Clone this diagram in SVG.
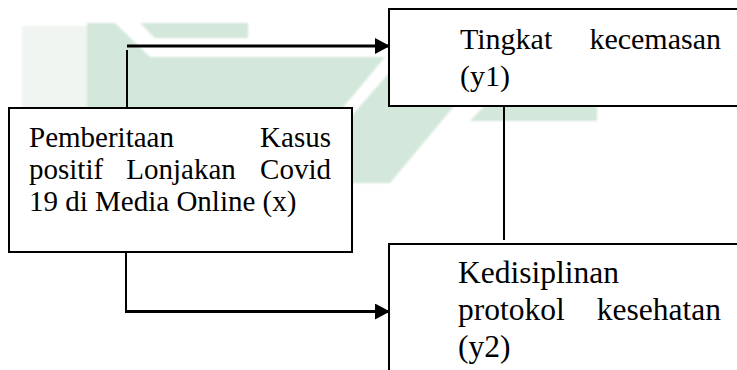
<svg xmlns="http://www.w3.org/2000/svg" width="737" height="370" viewBox="0 0 737 370">
  <style>
    .box { fill: #ffffff; stroke: #000000; stroke-width: 2; }
    .label { font-family: "Liberation Serif", "Times New Roman", serif; font-size: 29px; fill: #000000; }
    .top { font-size: 30px; }
    .bottom { font-size: 31.5px; }
    .end { text-anchor: end; }
    .mid { text-anchor: middle; }
    .wire { fill: none; stroke: #000000; stroke-width: 2; }
    .arrow { fill: none; stroke: #000000; stroke-width: 3; marker-end: url(#head); }
    .mark { fill: #d3e7da; }
  </style>
  <defs>
    <marker id="head" markerUnits="userSpaceOnUse" markerWidth="15" markerHeight="16" refX="15" refY="8" orient="auto" viewBox="0 0 15 16">
      <path d="M0,0 L15,8 L0,16 z" fill="#000000"/>
    </marker>
    <filter id="soft" x="-5%" y="-5%" width="110%" height="110%">
      <feGaussianBlur stdDeviation="1"/>
    </filter>
  </defs>

  <rect width="737" height="370" fill="#ffffff"/>

  <!-- faint background emblem -->
  <g id="emblem" filter="url(#soft)">
    <rect x="22" y="26" width="66" height="84" fill="#f0f5f2"/>
    <polygon class="mark" points="87,23 115,23 150,57 385,57 341,110 87,110"/>
    <polygon class="mark" points="140,23 248,23 248,38 155,38"/>
    <polygon class="mark" points="403,57 495,57 390,183 293,183"/>
    <polygon class="mark" points="490,100 597,100 597,121 470,121"/>
  </g>

  <!-- connectors -->
  <g id="connectors">
    <polyline class="wire" points="127,50 127,108"/>
    <line class="arrow" x1="127" y1="46" x2="390" y2="46"/>
    <polyline class="wire" points="126,252 126,312"/>
    <line class="arrow" x1="125" y1="311.5" x2="390" y2="311.5"/>
    <line class="wire" x1="504" y1="107" x2="504" y2="240"/>
  </g>

  <!-- independent variable -->
  <g id="node-x">
    <rect class="box" x="9" y="108" width="343" height="144"/>
    <text class="label" x="29" y="146.5">Pemberitaan</text>
    <text class="label end" x="331" y="146.5">Kasus</text>
    <text class="label" x="29" y="178.5">positif</text>
    <text class="label mid" x="181" y="178.5">Lonjakan</text>
    <text class="label end" x="331" y="178.5">Covid</text>
    <text class="label" x="29" y="211">19 di Media Online (x)</text>
  </g>

  <!-- dependent variable 1 -->
  <g id="node-y1">
    <rect class="box" x="389" y="9" width="360" height="97"/>
    <text class="label top" x="460" y="48.5">Tingkat</text>
    <text class="label top end" x="721" y="48.5">kecemasan</text>
    <text class="label top" x="460" y="85.5">(y1)</text>
  </g>

  <!-- dependent variable 2 -->
  <g id="node-y2">
    <rect class="box" x="389" y="244" width="360" height="140"/>
    <text class="label bottom" x="458" y="283">Kedisiplinan</text>
    <text class="label bottom" x="458" y="320">protokol</text>
    <text class="label bottom end" x="721" y="320">kesehatan</text>
    <text class="label bottom" x="458" y="357">(y2)</text>
  </g>
</svg>
